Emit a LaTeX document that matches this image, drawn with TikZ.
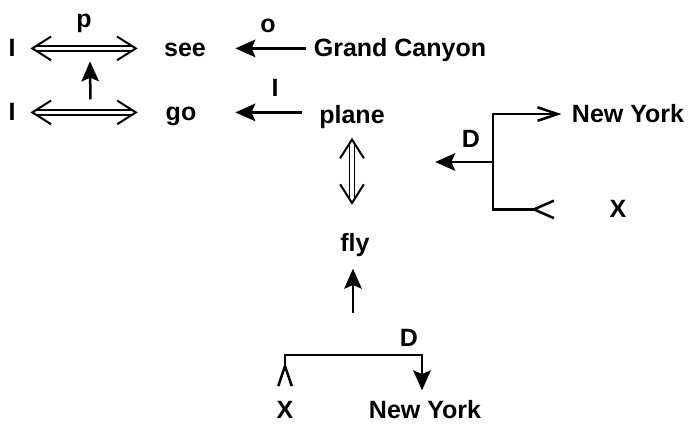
\documentclass[tikz,border=0pt]{standalone}
\usepackage{fontspec}
\setmainfont{Liberation Sans}
\usetikzlibrary{arrows.meta, positioning, calc}

\begin{document}
\begin{tikzpicture}[x=0.4pt, y=-0.4pt,
    every node/.style={font=\bfseries, inner sep=0pt, anchor=base},
    dbl/.style={double, double distance=1.3pt, line width=0.7pt},
    dtip/.style={tips, line width=0.8pt,
        {Straight Barb[length=7.5pt, width=9.5pt]}-{Straight Barb[length=7.5pt, width=9.5pt]}},
    act/.style={line width=1pt, -{Stealth[length=8pt, width=7pt, inset=1.5pt]}},
    link/.style={line width=1pt}]
    \useasboundingbox (0,0) rectangle (693,425);

    % first row
    \node (I1) at (12,57) {I};
    \node (see) at (185,57) {see};
    \node (gc) at (400,57) {Grand Canyon};
    \node (p) at (84,28) {p};
    \node (o) at (268,33) {o};

    % second row
    \node (I2) at (12,121) {I};
    \node (go) at (181,121) {go};
    \node (plane) at (352,124) {plane};
    \node (inst) at (275,97) {I};

    \node (fly) at (355,252) {fly};

    % direction, right
    \node (nyA) at (628,123) {New York};
    \node (xA) at (618,218) {X};
    \node (dA) at (471,148) {D};
    \coordinate (kA) at (493,162);

    % direction, bottom
    \node (xB) at (285,419) {X};
    \node (nyB) at (425,419) {New York};
    \node (dB) at (409,347) {D};
    \coordinate (kB) at (422,355);
    \coordinate (kC) at (353,313);

    % two-way links
    \draw[dbl, shorten <=8.6pt, shorten >=13.2pt] (I1) -- (see.west |- I1)
        coordinate[pos=0.5] (m1);
    \path[dtip, shorten <=5.8pt, shorten >=10.4pt] (I1) -- (see.west |- I1);
    \draw[dbl, shorten <=8.6pt, shorten >=13.8pt] (I2) -- (go.west |- I2)
        coordinate[pos=0.5] (m2);
    \path[dtip, shorten <=5.8pt, shorten >=11pt] (I2) -- (go.west |- I2);
    \draw[dbl, shorten <=6pt, shorten >=14.2pt] (plane.south) -- (plane.south |- fly.north);
    \path[dtip, shorten <=3.2pt, shorten >=11.4pt] (plane.south) -- (plane.south |- fly.north);

    \draw[act, shorten <=5.2pt, shorten >=5.2pt] (m2) -- (m1);

    \draw[act, shorten <=2.8pt, shorten >=11.6pt] (gc.west |- I1) -- (see.east |- I1);
    \draw[act, shorten <=6.8pt, shorten >=15.4pt] (plane.west |- I2) -- (go.east |- I2);

    \draw[act, shorten >=4.4pt] (kC) -- (kC |- fly.south);

    \draw[link, {Straight Barb[reversed, length=8pt, width=7pt]}-{Straight Barb[length=8pt, width=5.4pt]},
        shorten >=4pt] ([xshift=-21.6pt]xA.west) -| (kA) |- (nyA.west);
    \draw[act, shorten >=20pt] (kA) -- (plane.east |- kA);

    \draw[link, {Straight Barb[reversed, length=8pt, width=5.4pt]}-{Stealth[length=8pt, width=7pt, inset=1.5pt]},
        shorten >=4pt] ([yshift=5.6pt]xB.north) |- (kB) -- (kB |- nyB.north);
\end{tikzpicture}
\end{document}
